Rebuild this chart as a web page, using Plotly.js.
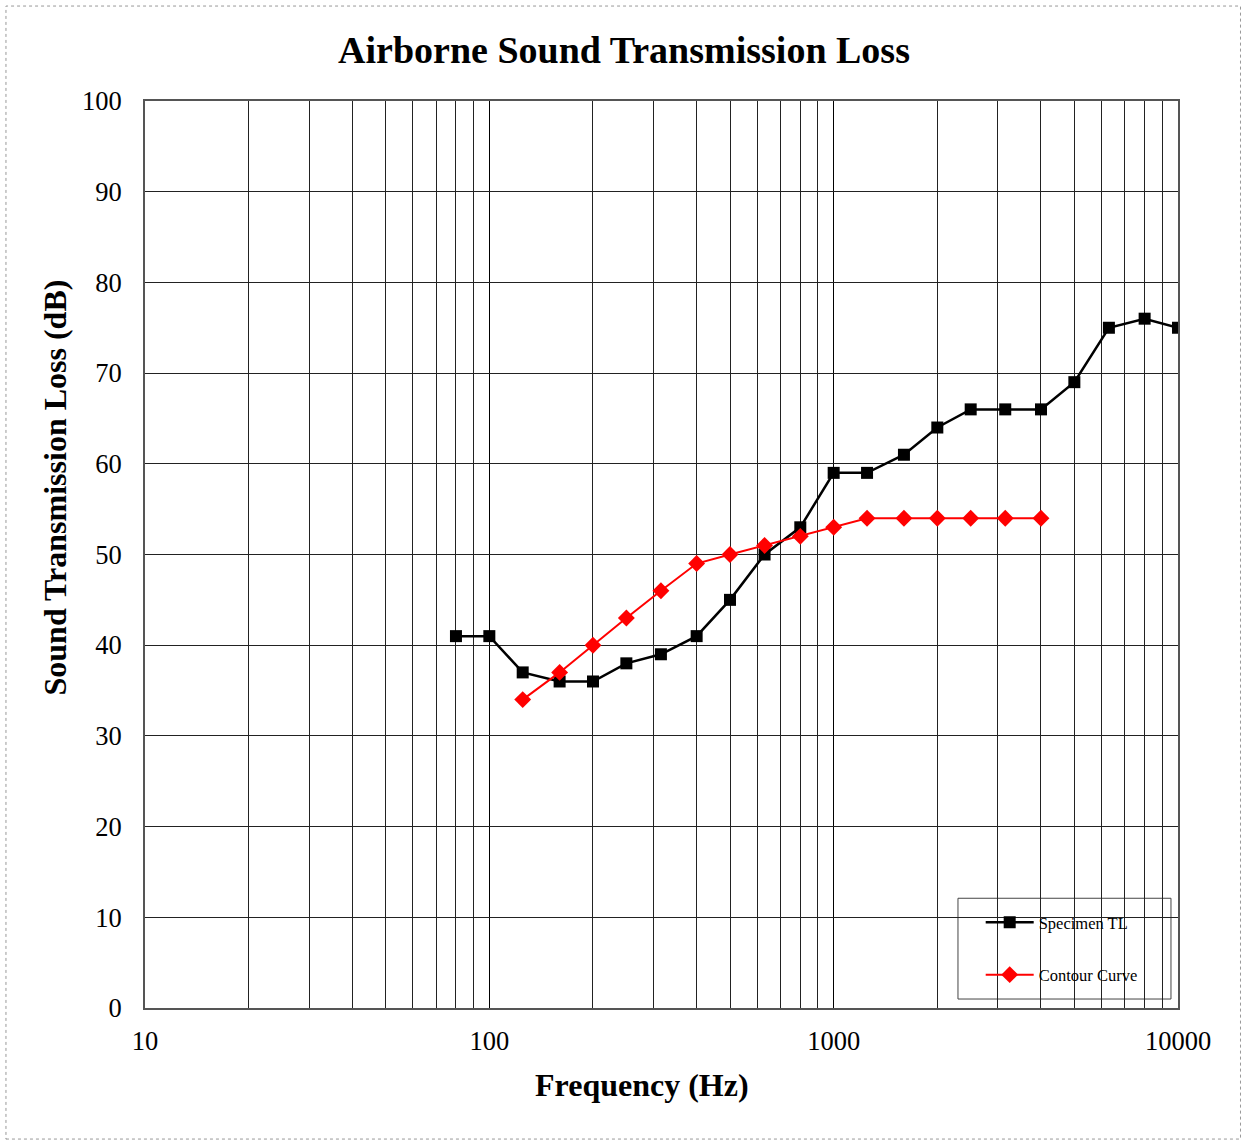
<!DOCTYPE html>
<html>
<head>
<meta charset="utf-8">
<script src="https://cdn.plot.ly/plotly-3.0.1.min.js"></script>
<style>html,body{margin:0;padding:0;background:#fff;}#chart{width:1243px;height:1140px;}</style>
</head>
<body>
<div id="chart"></div>
<script>
const specimenFreq = [80,100,125,160,200,250,315,400,500,630,800,1000,1250,1600,2000,2500,3150,4000,5000,6300,8000,10000];
const specimenTL = [41,41,37,36,36,38,39,41,45,50,53,59,59,61,64,66,66,66,69,75,76,75];
const contourFreq = [125,160,200,250,315,400,500,630,800,1000,1250,1600,2000,2500,3150,4000];
const contourTL = [34,37,40,43,46,49,50,51,52,53,54,54,54,54,54,54];
const xTickVals = [10,100,1000,10000];
const xTickText = ['10','100','1000','10000'];
const xMinorVals = [20,30,40,50,60,70,80,90,200,300,400,500,600,700,800,900,2000,3000,4000,5000,6000,7000,8000,9000];
const yTickVals = [0,10,20,30,40,50,60,70,80,90,100];

const font = 'Liberation Serif, Times New Roman, serif';

const traces = [
  {x: specimenFreq, y: specimenTL, name: 'Specimen TL', mode: 'lines+markers', legendgroup: 'a',
   line: {color: '#000', width: 2.5}, marker: {symbol: 'square', size: 12, color: '#000'}},
  {x: contourFreq, y: contourTL, name: 'Contour Curve', mode: 'lines+markers', legendgroup: 'b',
   line: {color: '#ff0000', width: 2}, marker: {symbol: 'diamond', size: 13, color: '#ff0000'}}
];

const layout = {
  width: 1243, height: 1140,
  margin: {l: 145, r: 65, t: 101, b: 132},
  paper_bgcolor: '#fff', plot_bgcolor: '#fff',
  font: {family: font, color: '#000'},
  title: {text: '<b>Airborne Sound Transmission Loss</b>', font: {family: font, size: 38, color: '#000'},
          x: 0.502, xanchor: 'center', y: 0.956, yanchor: 'middle'},
  xaxis: {type: 'log', range: [1, 4], tickvals: xTickVals, ticktext: xTickText,
          showgrid: true, gridcolor: '#000', gridwidth: 1,
          minor: {tickvals: xMinorVals, showgrid: true, gridcolor: '#222', gridwidth: 1, ticks: ''},
          showline: true, linecolor: '#555', linewidth: 2, mirror: true, ticks: '',
          tickfont: {family: font, size: 26.5, color: '#000'}, ticklabelstandoff: 8,
          zeroline: false},
  yaxis: {range: [0, 100], tickvals: yTickVals, showgrid: true, gridcolor: '#222', gridwidth: 1,
          showline: true, linecolor: '#555', linewidth: 2, mirror: true, ticks: '',
          tickfont: {family: font, size: 26.5, color: '#000'}, ticklabelstandoff: 16,
          zeroline: false},
  annotations: [
    {text: '<b>Frequency (Hz)</b>', xref: 'paper', yref: 'paper', x: 0.4811, y: -0.0849,
     xanchor: 'center', yanchor: 'middle', showarrow: false, font: {family: font, size: 32, color: '#000'}},
    {text: '<b>Sound Transmission Loss (dB)</b>', xref: 'paper', yref: 'paper', x: -0.0871, y: 0.5739,
     xanchor: 'center', yanchor: 'middle', textangle: -90, showarrow: false, font: {family: font, size: 32, color: '#000'}}
  ],
  showlegend: true,
  legend: {x: 0.809, y: 0.1136, xanchor: 'left', yanchor: 'top', bgcolor: 'rgba(0,0,0,0)',
           borderwidth: 0, font: {family: font, size: 16.5, color: '#000'},
           traceorder: 'grouped', tracegroupgap: 28, itemwidth: 48},
  shapes: [
    {type: 'rect', xref: 'paper', yref: 'paper', x0: -0.1346, x1: 1.0605, y0: -0.1445, y1: 1.1047,
     line: {color: '#999', width: 1, dash: 'dot'}, layer: 'below'},
    {type: 'rect', xref: 'paper', yref: 'paper', x0: 0.787, x1: 0.9932, y0: 0.0099, y1: 0.121,
     line: {color: '#444', width: 1}, fillcolor: '#fff', layer: 'between'}
  ]
};

Plotly.newPlot('chart', traces, layout, {displayModeBar: false, staticPlot: true});
</script>
</body>
</html>
